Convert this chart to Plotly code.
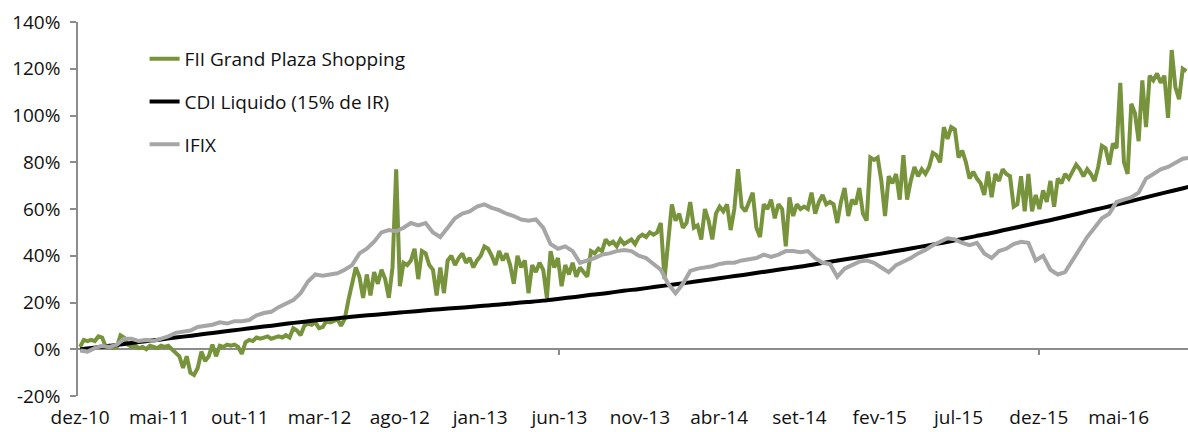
import pandas as pd
import plotly.graph_objects as go

# ---- data (percent) ----
green_start = "2010-12-01"   # weekly observations
green_vals = [
    1, 4, 3.5, 4, 3.5, 5.5, 5, 1, 1.5, 0.5,
    1, 6, 5, 2, 1, 1.5, 0.5, 1, 0, 1.5,
    1, 0.5, 1.5, 1, 1.5, 0, -2, -3, -8, -3,
    -10, -11, -8, -1, -5, -3, 2, -3, 1.5, 1,
    2, 1.5, 2, 1, -2, 3, 4, 3.5, 5, 4.5,
    5, 5.5, 4.5, 5, 5.5, 5, 6, 5, 9, 8,
    6, 10, 11, 10.5, 11.5, 9, 9.5, 12, 11.5, 12,
    13, 10, 13, 21, 29, 35, 31, 22, 32, 23,
    33, 28, 34, 30, 22, 35, 77, 27, 37, 36,
    38, 43, 30, 42, 41, 36, 34, 23, 35, 24,
    38, 40, 36, 39, 41, 37, 39, 35, 38, 40,
    44, 43, 40, 36, 42, 38, 41, 36, 28, 40,
    35, 38, 24, 36, 33, 37, 34, 22, 42, 35,
    39, 27, 36, 32, 37, 31, 35, 33, 31, 42,
    41, 43, 42, 47, 45, 46, 44, 47, 45, 46,
    47, 45, 48, 49, 48, 50, 49, 50, 54, 30,
    45, 62, 55, 58, 52, 54, 63, 52, 53, 47,
    60, 55, 47, 58, 61, 59, 62, 51, 60, 77,
    61, 59, 63, 67, 52, 48, 62, 60, 64, 56,
    62, 60, 44, 65, 57, 62, 60, 61, 60, 67,
    58, 63, 66, 62, 63, 62, 54, 63, 69, 57,
    64, 62, 69, 58, 55, 82, 81, 82, 72, 57,
    74, 71, 75, 64, 83, 64, 72, 78, 74, 77,
    75, 78, 84, 83, 80, 95, 90, 95, 94, 82,
    85, 80, 73, 76, 73, 71, 66, 76, 65, 75,
    72, 77, 75, 74, 61, 62, 74, 59, 75, 59,
    66, 60, 68, 63, 72, 61, 73, 71, 75, 73,
    76, 79, 77, 74, 77, 75, 72, 78, 87, 86,
    79, 88, 86, 114, 80, 75, 105, 101, 89, 115,
    95, 117, 115, 118, 114, 117, 99, 128, 112, 107,
    120, 119,
]

cdi_start = "2010-12-01"     # monthly observations
cdi_vals = [
    0.0, 0.8, 1.6, 2.5, 3.3, 4.1, 5.0, 5.8, 6.7, 7.6,
    8.4, 9.3, 10.1, 11.0, 11.8, 12.5, 13.2, 13.9, 14.5, 15.1,
    15.7, 16.3, 16.9, 17.4, 17.9, 18.5, 19.0, 19.6, 20.2, 20.8,
    21.6, 22.4, 23.3, 24.1, 25.0, 25.8, 26.7, 27.6, 28.5, 29.4,
    30.4, 31.3, 32.3, 33.3, 34.3, 35.3, 36.4, 37.5, 38.6, 39.7,
    40.8, 41.9, 43.1, 44.3, 45.6, 46.9, 48.3, 49.7, 51.2, 52.7,
    54.2, 55.7, 57.3, 58.9, 60.5, 62.1, 63.8, 65.5, 67.2, 68.9,
    70.6,
]

ifix_start = "2010-12-01"    # bi-weekly observations
ifix_vals = [
    -0.5, -1, 0.5, 1.5, 1, 2, 4.5, 4.5, 3.5, 4,
    3.5, 4.5, 5.5, 7, 7.5, 8, 9.5, 10, 10.5, 11.5,
    11, 12, 12, 12.5, 14.5, 15.5, 16, 18, 19.5, 21,
    24, 29, 32, 31.5, 32, 32.5, 34, 36, 41, 43,
    46, 50, 51, 50.5, 52, 54, 53, 54, 50, 48,
    52, 56, 58, 59, 61, 62, 60.5, 59.5, 58, 57,
    55.5, 55, 55.5, 52, 45, 43, 44, 42, 37, 38,
    39, 40.5, 41, 42, 42.5, 42, 40, 39, 36.5, 34,
    28, 24, 28, 33.5, 34.5, 35, 35.5, 36.5, 37, 37,
    38, 38.5, 39, 40.5, 39.5, 40.5, 42, 42, 41.5, 42,
    39, 37, 36.5, 31, 34.5, 36, 37.5, 38, 37, 35,
    33, 36, 37.5, 39, 41, 42.5, 44.5, 46, 47.5, 47,
    45.5, 44.5, 45.5, 41, 39, 42, 43, 45, 46, 45.5,
    38, 40, 34, 32, 33, 38, 43, 48, 52, 56,
    58, 63, 64, 65, 67, 73, 75, 77, 78, 80,
    81.5, 82,
]

names = ["FII Grand Plaza Shopping", "CDI Liquido (15% de IR)", "IFIX"]
colors = ["#77933C", "#000000", "#A6A6A6"]

tick_dates = ["2010-12-01", "2011-05-01", "2011-10-01", "2012-03-01", "2012-08-01",
              "2013-01-01", "2013-06-01", "2013-11-01", "2014-04-01", "2014-09-01",
              "2015-02-01", "2015-07-01", "2015-12-01", "2016-05-01"]
tick_labels = ["dez-10", "mai-11", "out-11", "mar-12", "ago-12", "jan-13", "jun-13",
               "nov-13", "abr-14", "set-14", "fev-15", "jul-15", "dez-15", "mai-16"]
minor_mark_dates = ["2013-06-01", "2015-12-01"]

y_ticks = [-20, 0, 20, 40, 60, 80, 100, 120, 140]
y_labels = ["-20%", "0%", "20%", "40%", "60%", "80%", "100%", "120%", "140%"]

x_range = ["2010-11-27", "2016-09-10"]

# ---- build ----
green_x = pd.date_range(green_start, periods=len(green_vals), freq="7D")
cdi_x = pd.date_range(cdi_start, periods=len(cdi_vals), freq="MS")
ifix_x = pd.date_range(ifix_start, periods=len(ifix_vals), freq="14D")

fig = go.Figure()
fig.add_trace(go.Scatter(x=green_x, y=green_vals, mode="lines", name=names[0],
                         line=dict(color=colors[0], width=4), legendgroup="a"))
fig.add_trace(go.Scatter(x=cdi_x, y=cdi_vals, mode="lines", name=names[1],
                         line=dict(color=colors[1], width=4, shape="spline"), legendgroup="b"))
fig.add_trace(go.Scatter(x=ifix_x, y=ifix_vals, mode="lines", name=names[2],
                         line=dict(color=colors[2], width=4), legendgroup="c"))
# invisible helper so the tick-mark axis is drawn
fig.add_trace(go.Scatter(x=minor_mark_dates, y=[0] * len(minor_mark_dates), mode="markers",
                         marker=dict(opacity=0), showlegend=False, hoverinfo="skip",
                         xaxis="x2"))

axis_grey = "#8C8C8C"
fig.update_layout(
    width=1188, height=432,
    margin=dict(l=78, r=0, t=22, b=36),
    paper_bgcolor="white", plot_bgcolor="white",
    font=dict(family="'Open Sans', Lato, sans-serif", size=19, color="#111111"),
    showlegend=True,
    legend=dict(x=0.06, y=0.952, xanchor="left", yanchor="top",
                bgcolor="rgba(0,0,0,0)", traceorder="grouped", tracegroupgap=15,
                font=dict(size=19)),
    xaxis=dict(type="date", range=x_range, tickvals=tick_dates, ticktext=tick_labels,
               showgrid=False, zeroline=False, showline=False, ticks="",
               ticklabelstandoff=8, automargin=False),
    xaxis2=dict(type="date", overlaying="x", matches="x", anchor="free", position=0.125,
                side="bottom", tickvals=minor_mark_dates, showticklabels=False,
                ticks="outside", ticklen=5, tickcolor=axis_grey, tickwidth=1.5,
                showgrid=False, showline=False, zeroline=False),
    yaxis=dict(range=[-20, 140], tickvals=y_ticks, ticktext=y_labels,
               showgrid=False, showline=True, linecolor=axis_grey, linewidth=1.5,
               ticks="outside", ticklen=6, tickcolor=axis_grey, tickwidth=1.5,
               zeroline=True, zerolinecolor=axis_grey, zerolinewidth=1.5,
               ticklabelstandoff=6, automargin=False),
)

fig.write_html("out.html", config={"displayModeBar": False},
               post_script="document.body.style.margin='0';")
